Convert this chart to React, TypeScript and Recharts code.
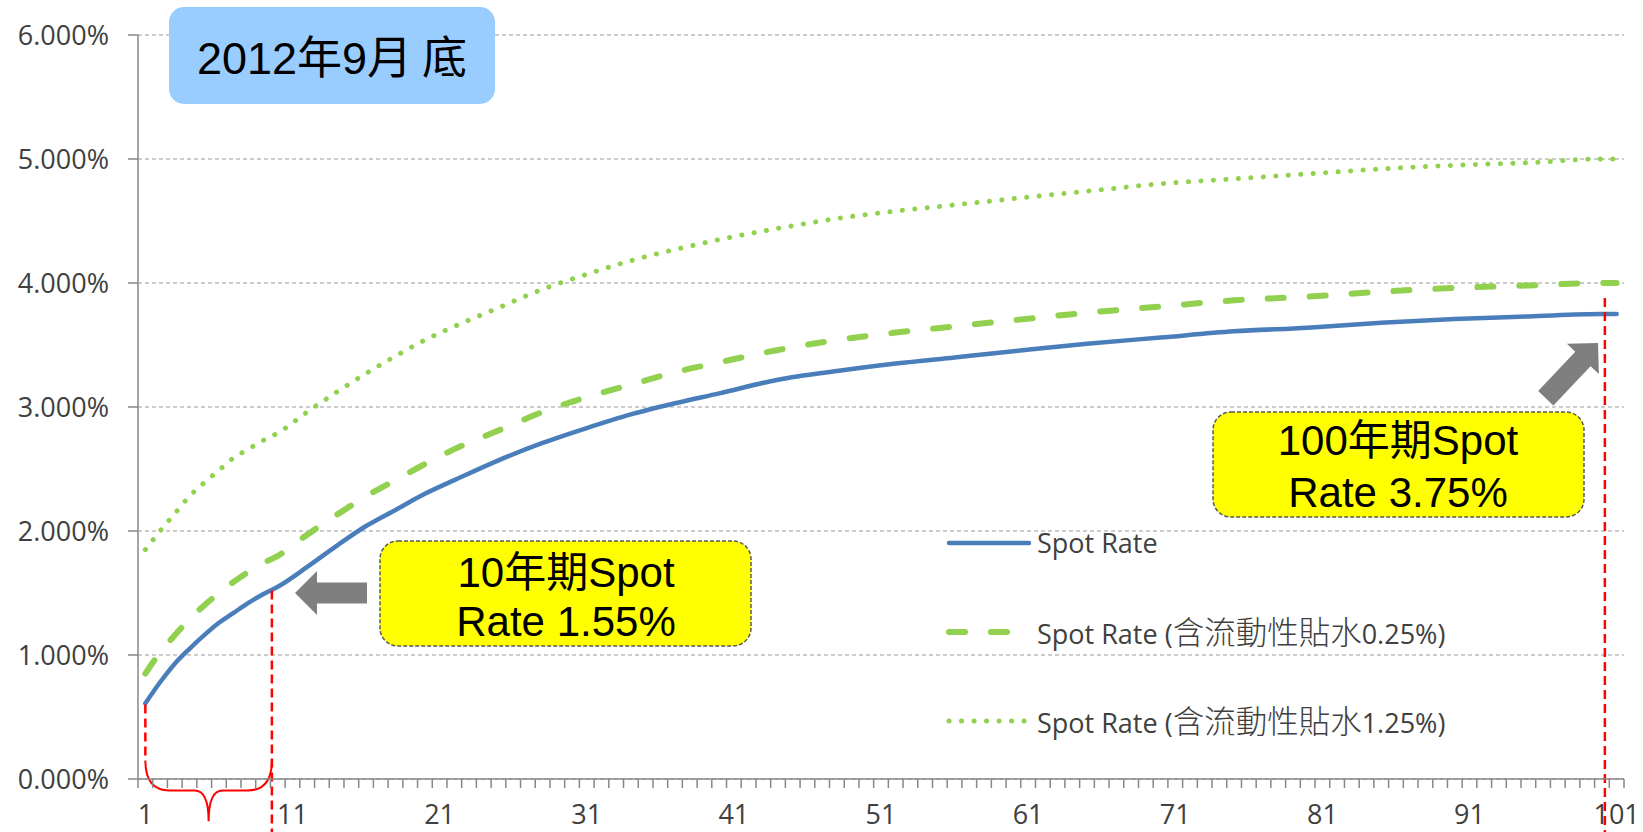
import { LineChart, Line, XAxis, YAxis, CartesianGrid, ReferenceLine, ReferenceArea, Legend } from "recharts";

// tenor (years) and spot rates in %
const years = [1, 2, 3, 4, 5, 6, 7, 8, 9, 10, 12, 14, 16, 18, 20, 22, 25, 28, 31, 34, 37, 40, 44, 48, 52, 56, 60, 65, 70, 75, 80, 85, 90, 95, 100, 101];
const spotRate = [0.61, 0.78, 0.93, 1.05, 1.16, 1.26, 1.34, 1.42, 1.49, 1.55, 1.71, 1.88, 2.04, 2.17, 2.3, 2.41, 2.57, 2.71, 2.83, 2.94, 3.03, 3.11, 3.22, 3.29, 3.35, 3.4, 3.45, 3.51, 3.56, 3.61, 3.64, 3.68, 3.71, 3.73, 3.75, 3.75];
const spotRate025 = [0.85, 1.02, 1.16, 1.29, 1.4, 1.5, 1.59, 1.67, 1.74, 1.8, 1.97, 2.13, 2.28, 2.41, 2.54, 2.66, 2.81, 2.96, 3.08, 3.18, 3.28, 3.36, 3.46, 3.54, 3.6, 3.65, 3.7, 3.76, 3.81, 3.86, 3.89, 3.93, 3.96, 3.98, 4.0, 4.0];
const spotRate125 = [1.85, 2.0, 2.14, 2.28, 2.39, 2.49, 2.59, 2.66, 2.73, 2.79, 2.96, 3.12, 3.27, 3.41, 3.54, 3.65, 3.8, 3.95, 4.07, 4.18, 4.27, 4.35, 4.44, 4.52, 4.58, 4.63, 4.68, 4.74, 4.8, 4.84, 4.88, 4.92, 4.95, 4.97, 5.0, 5.0];

const xLabels = [1, 11, 21, 31, 41, 51, 61, 71, 81, 91, 101];
const yTicks = [0, 1, 2, 3, 4, 5, 6];

const seriesNames = ["Spot Rate", "Spot Rate (含流動性貼水0.25%)", "Spot Rate (含流動性貼水1.25%)"];

const data = years.map((t, i) => ({
  t,
  spot: spotRate[i],
  spot025: spotRate025[i],
  spot125: spotRate125[i],
}));

const BLUE = "#4a7ebb";
const GREEN = "#92d050";
const AXIS = "#878787";
const TEXT = "#404040";
const LATIN = "'Open Sans', 'Noto Sans', sans-serif";
const CJK = "'Noto Sans CJK TC', 'Noto Sans CJK SC', sans-serif";
const ARIAL = "'Liberation Sans', Arial, 'Noto Sans CJK TC', sans-serif";

const series = [
  { key: "spot", name: seriesNames[0], color: BLUE, width: 4.5, dash: undefined as string | undefined, cap: "round" as const },
  { key: "spot025", name: seriesNames[1], color: GREEN, width: 6, dash: "16 26", cap: "round" as const },
  { key: "spot125", name: seriesNames[2], color: GREEN, width: 5, dash: "0.1 12.4", cap: "round" as const },
];

// one tick mark between every pair of categories, labels every 10
const minorTicks = Array.from({ length: 102 }, (_, i) => i + 0.5);
const allTicks = [...minorTicks, ...xLabels].sort((a, b) => a - b);

function XTick(props: any) {
  const { x, y, payload } = props;
  const v = payload.value;
  if (xLabels.includes(v)) {
    return (
      <text x={x} y={y + 45} textAnchor="middle" fontFamily={LATIN} fontSize={27} fill={TEXT}>
        {v}
      </text>
    );
  }
  return <line x1={x} x2={x} y1={y} y2={y + 9} stroke={AXIS} strokeWidth={1.5} />;
}

function splitRuns(s: string) {
  return s.split(/([\u3400-\u9fff]+)/).filter(Boolean);
}

function LegendBox() {
  return (
    <div style={{ position: "relative", width: 560, height: 230 }}>
      {series.map((s, i) => (
        <div
          key={s.key}
          style={{ position: "absolute", left: 0, top: i * 89, height: 50, display: "flex", alignItems: "center", whiteSpace: "nowrap" }}
        >
          <svg width={91} height={20} style={{ display: "block" }}>
            <line x1={3} x2={83} y1={10} y2={10} stroke={s.color} strokeWidth={s.width} strokeDasharray={s.dash} strokeLinecap={s.cap} />
          </svg>
          <span style={{ fontFamily: LATIN, fontSize: 27, color: TEXT, lineHeight: "50px" }}>
            {splitRuns(s.name).map((r, j) =>
              /[\u3400-\u9fff]/.test(r) ? (
                <span key={j} style={{ fontFamily: CJK, fontSize: 31.5, fontWeight: 300 }}>{r}</span>
              ) : (
                <span key={j}>{r}</span>
              )
            )}
          </span>
        </div>
      ))}
    </div>
  );
}

function Brace(props: any) {
  const { x, y, width, height } = props;
  const L = x;
  const R = x + width;
  const top = y;
  const bottom = y + height;
  const mid = top + 30;
  const C = (L + R) / 2;
  const d = `M ${L} ${top} Q ${L} ${mid} ${L + 24} ${mid} L ${C - 14} ${mid} Q ${C} ${mid} ${C} ${bottom} Q ${C} ${mid} ${C + 14} ${mid} L ${R - 24} ${mid} Q ${R} ${mid} ${R} ${top}`;
  return <path d={d} fill="none" stroke="#ff0000" strokeWidth={2} />;
}

function Arrow({ x, y, angle, len }: { x: number; y: number; angle: number; len: number }) {
  const pts = [
    [0, 0],
    [-22, -22],
    [-22, -10.5],
    [-len, -10.5],
    [-len, 10.5],
    [-22, 10.5],
    [-22, 22],
  ]
    .map((p) => p.join(","))
    .join(" ");
  return <polygon points={pts} fill="#7f7f7f" transform={`translate(${x},${y}) rotate(${angle})`} />;
}

function Annotations() {
  const boxStroke = { stroke: "#595959", strokeWidth: 1.5, strokeDasharray: "4 2" };
  return (
    <svg width={1643} height={832} style={{ position: "absolute", left: 0, top: 0, pointerEvents: "none" }}>
      <rect x={169} y={7} width={326} height={97} rx={15} fill="#99ccff" />
      <text x={332} y={74} textAnchor="middle" fontFamily={ARIAL} fontSize={45} fill="#000">
        2012<tspan fontFamily={CJK}>年</tspan>9<tspan fontFamily={CJK}>月 底</tspan>
      </text>

      <rect x={380} y={541} width={371} height={105} rx={18} fill="#ffff00" {...boxStroke} />
      <text x={566} y={587} textAnchor="middle" fontFamily={ARIAL} fontSize={42} fill="#000">
        10<tspan fontFamily={CJK}>年期</tspan>Spot
      </text>
      <text x={566} y={636} textAnchor="middle" fontFamily={ARIAL} fontSize={42} fill="#000">
        Rate 1.55%
      </text>

      <rect x={1213} y={412} width={371} height={105} rx={18} fill="#ffff00" {...boxStroke} />
      <text x={1398} y={455} textAnchor="middle" fontFamily={ARIAL} fontSize={42} fill="#000">
        100<tspan fontFamily={CJK}>年期</tspan>Spot
      </text>
      <text x={1398} y={507} textAnchor="middle" fontFamily={ARIAL} fontSize={42} fill="#000">
        Rate 3.75%
      </text>

      <Arrow x={295} y={593} angle={180} len={72} />
      <Arrow x={1598} y={343} angle={-46.6} len={76} />
    </svg>
  );
}

export default function App() {
  return (
    <div style={{ position: "absolute", left: 0, top: 0, width: 1643, height: 832, background: "#fff" }}>
      <LineChart width={1643} height={832} data={data} margin={{ top: 35, right: 19, bottom: 0, left: 0 }}>
        <CartesianGrid vertical={false} stroke="#9a9a9a" strokeWidth={1.2} strokeDasharray="4 3" />
        <XAxis
          dataKey="t"
          type="number"
          domain={[0.5, 101.5]}
          ticks={allTicks}
          interval={0}
          tick={<XTick />}
          tickLine={false}
          tickSize={0}
          tickMargin={0}
          height={53}
          axisLine={{ stroke: AXIS, strokeWidth: 1.5 }}
        />
        <YAxis
          type="number"
          domain={[0, 6]}
          ticks={yTicks}
          interval={0}
          width={138}
          tickSize={10}
          tickMargin={19}
          tickFormatter={(v: number) => `${v.toFixed(3)}%`}
          tick={{ fontFamily: LATIN, fontSize: 27, fill: TEXT }}
          tickLine={{ stroke: AXIS, strokeWidth: 1.5 }}
          axisLine={{ stroke: AXIS, strokeWidth: 1.5 }}
        />
        <Legend
          layout="vertical"
          align="center"
          verticalAlign="middle"
          wrapperStyle={{ left: 946, top: 518, width: 560, height: 230 }}
          content={() => <LegendBox />}
        />
        {[...series].reverse().map((s) => (
          <Line
            key={s.key}
            dataKey={s.key}
            name={s.name}
            type="monotone"
            stroke={s.color}
            strokeWidth={s.width}
            strokeDasharray={s.dash}
            strokeLinecap={s.cap}
            dot={false}
            activeDot={false}
            isAnimationActive={false}
          />
        ))}
        <ReferenceLine
          ifOverflow="visible"
          segment={[{ x: 1, y: 0.6 }, { x: 1, y: 0.15 }]}
          stroke="#ff0000"
          strokeWidth={2.5}
          strokeDasharray="9 5"
        />
        <ReferenceLine
          ifOverflow="visible"
          segment={[{ x: 9.6, y: 1.52 }, { x: 9.6, y: -0.43 }]}
          stroke="#ff0000"
          strokeWidth={2.5}
          strokeDasharray="9 5"
        />
        <ReferenceLine
          ifOverflow="visible"
          segment={[{ x: 100.2, y: 3.88 }, { x: 100.2, y: -0.43 }]}
          stroke="#ff0000"
          strokeWidth={2.5}
          strokeDasharray="9 5"
        />
        <ReferenceArea ifOverflow="visible" x1={1} x2={9.6} y1={-0.34} y2={0.15} shape={<Brace />} />
      </LineChart>
      <Annotations />
    </div>
  );
}
